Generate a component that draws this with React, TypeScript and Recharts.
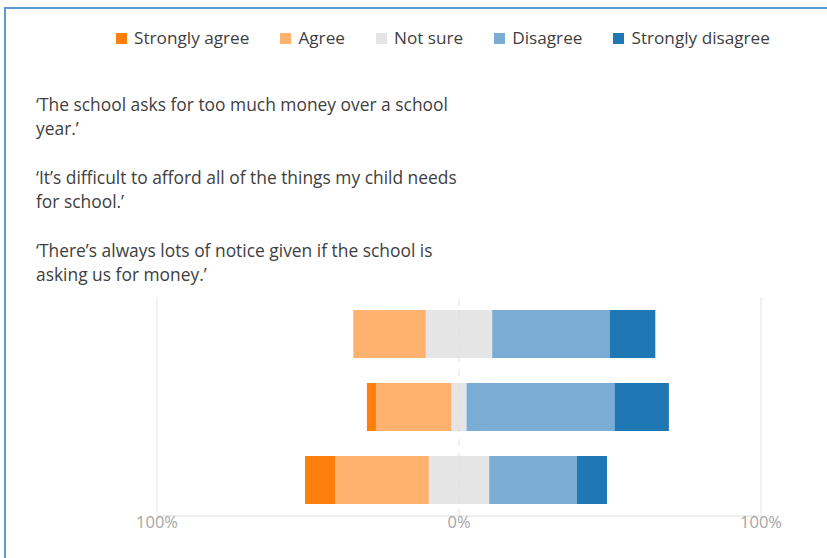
import { Bar, BarChart, ReferenceLine, XAxis, YAxis } from "recharts"

// each statement split into the two lines it wraps to in the picture
const statements = [
    ["‘The school asks for too much money over a school", "year.’"],
    ["‘It’s difficult to afford all of the things my child needs", "for school.’"],
    ["‘There’s always lots of notice given if the school is", "asking us for money.’"],
]

// percentages
const stronglyAgree = [0, 3, 10]
const agree = [24, 25, 31]
const notSure = [22, 5, 20]
const disagree = [39, 49, 29]
const stronglyDisagree = [15, 18, 10]

const axisTicks = [-100, 0, 100]

const COLORS = {
    stronglyAgree: "#ff7f0e",
    agree: "#ffb16e",
    notSure: "#e5e5e5",
    disagree: "#7bacd3",
    stronglyDisagree: "#1f77b4",
}

const legendItems = [
    { label: "Strongly agree", color: COLORS.stronglyAgree },
    { label: "Agree", color: COLORS.agree },
    { label: "Not sure", color: COLORS.notSure },
    { label: "Disagree", color: COLORS.disagree },
    { label: "Strongly disagree", color: COLORS.stronglyDisagree },
]

// diverging layout: agree side goes left, "not sure" is split across 0
const data = statements.map((s, i) => ({
    name: s.join(" "),
    nsLeft: -notSure[i] / 2,
    nsRight: notSure[i] / 2,
    agree: -agree[i],
    disagree: disagree[i],
    stronglyAgree: -stronglyAgree[i],
    stronglyDisagree: stronglyDisagree[i],
}))

const FONT = "'Open Sans', sans-serif"
const TEXT = "#404040"

export default function App() {
    return (
        <div style={{ position: "relative", width: 827, height: 558, background: "#fff", fontFamily: FONT, overflow: "hidden" }}>
            <style>{"body{margin:0}"}</style>
            <div style={{ position: "absolute", left: 4, top: 7, right: 0, height: 2, background: "#5b9bd5" }} />
            <div style={{ position: "absolute", left: 4, top: 7, bottom: 0, width: 2, background: "#5b9bd5" }} />

            <div style={{ position: "absolute", top: 26, left: 116, display: "flex", whiteSpace: "nowrap", fontSize: 17.2, lineHeight: "24px", color: TEXT }}>
                {legendItems.map(item => (
                    <div key={item.label} style={{ display: "flex", alignItems: "center", marginRight: 31 }}>
                        <span style={{ display: "inline-block", width: 11, height: 11, background: item.color, marginRight: 7 }} />
                        <span>{item.label}</span>
                    </div>
                ))}
            </div>

            <div style={{ position: "absolute", top: 92, left: 36, fontSize: 17.4, lineHeight: "24px", color: TEXT, whiteSpace: "nowrap" }}>
                {statements.map(lines => (
                    <p key={lines[0]} style={{ margin: "0 0 25px 0" }}>
                        {lines[0]}<br />{lines[1]}
                    </p>
                ))}
            </div>

            <BarChart
                width={827}
                height={558}
                data={data}
                layout="vertical"
                stackOffset="sign"
                barSize={48}
                margin={{ top: 297, right: 66, bottom: 12, left: 157 }}
                style={{ position: "absolute", left: 0, top: 0 }}
            >
                <XAxis
                    type="number"
                    domain={[-100, 100]}
                    ticks={axisTicks}
                    tickFormatter={v => `${Math.abs(v)}%`}
                    tick={{ fill: "#a6a6a6", fontSize: 16.5, fontFamily: FONT }}
                    tickLine={false}
                    tickSize={0}
                    tickMargin={0}
                    axisLine={{ stroke: "#ddd" }}
                    height={30}
                />
                <YAxis type="category" dataKey="name" hide />
                <ReferenceLine x={-100} stroke="#e6e6e6" />
                <ReferenceLine x={100} stroke="#e6e6e6" />
                <ReferenceLine x={0} stroke="#e0e0e0" strokeDasharray="7 7" />
                <Bar dataKey="nsLeft" stackId="a" fill={COLORS.notSure} isAnimationActive={false} />
                <Bar dataKey="nsRight" stackId="a" fill={COLORS.notSure} isAnimationActive={false} />
                <Bar dataKey="agree" stackId="a" fill={COLORS.agree} isAnimationActive={false} />
                <Bar dataKey="disagree" stackId="a" fill={COLORS.disagree} isAnimationActive={false} />
                <Bar dataKey="stronglyAgree" stackId="a" fill={COLORS.stronglyAgree} isAnimationActive={false} />
                <Bar dataKey="stronglyDisagree" stackId="a" fill={COLORS.stronglyDisagree} isAnimationActive={false} />
            </BarChart>
        </div>
    )
}
